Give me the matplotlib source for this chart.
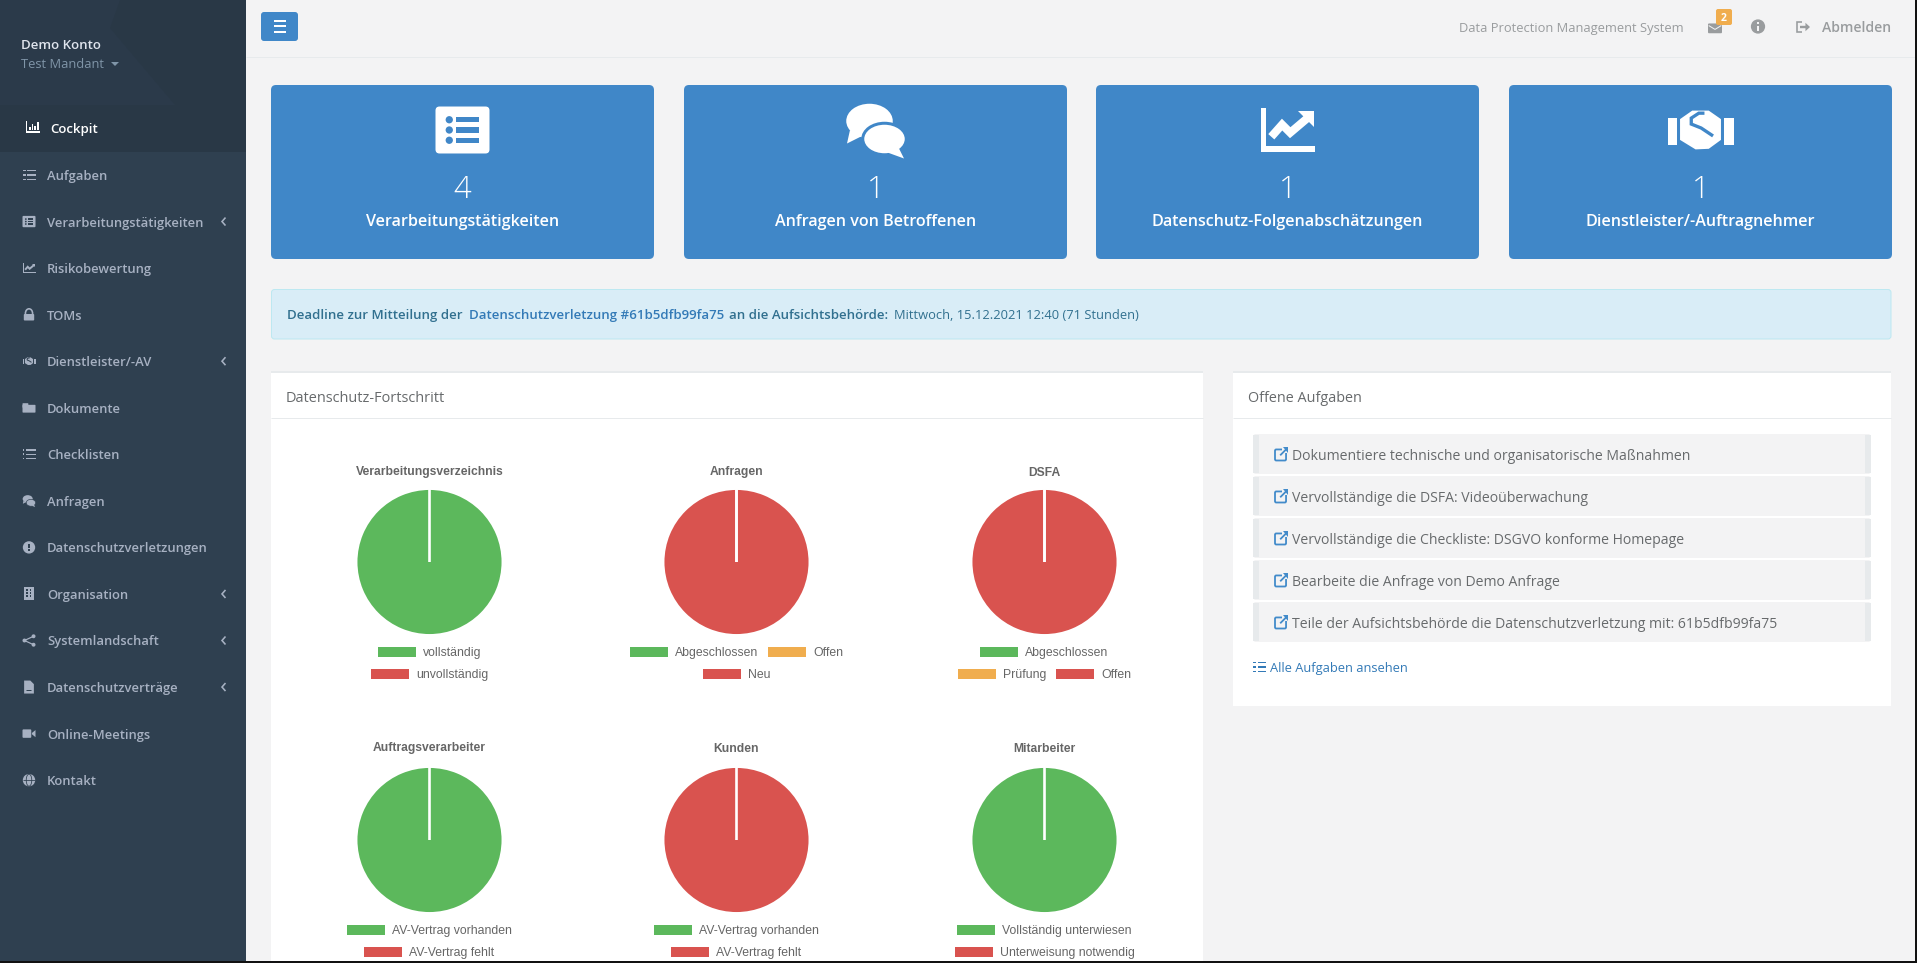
import matplotlib
matplotlib.use("Agg")
import matplotlib.pyplot as plt
from matplotlib.patches import Rectangle, FancyBboxPatch, Circle, Polygon, Ellipse

plt.rcParams['font.family'] = ['Open Sans', 'DejaVu Sans']

W, H = 1917, 963

# ── Data ──────────────────────────────────────────────────────────────────────
pie_titles = ["Verarbeitungsverzeichnis", "Anfragen", "DSFA",
              "Auftragsverarbeiter", "Kunden", "Mitarbeiter"]
pie_values = [[4, 0], [0, 0, 1], [0, 0, 1], [3, 0], [0, 2], [5, 0]]
pie_labels = [
    ["vollständig", "unvollständig"],
    ["Abgeschlossen", "Offen", "Neu"],
    ["Abgeschlossen", "Prüfung", "Offen"],
    ["AV-Vertrag vorhanden", "AV-Vertrag fehlt"],
    ["AV-Vertrag vorhanden", "AV-Vertrag fehlt"],
    ["Vollständig unterwiesen", "Unterweisung notwendig"],
]
pie_colors = [
    ["green", "red"],
    ["green", "orange", "red"],
    ["green", "orange", "red"],
    ["green", "red"],
    ["green", "red"],
    ["green", "red"],
]
pie_rows = [[1, 1], [2, 1], [1, 2], [1, 1], [1, 1], [1, 1]]

card_counts = [4, 1, 1, 1]
card_labels = ["Verarbeitungstätigkeiten", "Anfragen von Betroffenen",
               "Datenschutz-Folgenabschätzungen", "Dienstleister/-Auftragnehmer"]
card_icons = ["listalt", "comments", "chart", "handshake"]

nav_labels = ["Aufgaben", "Verarbeitungstätigkeiten", "Risikobewertung", "TOMs",
              "Dienstleister/-AV", "Dokumente", "Checklisten", "Anfragen",
              "Datenschutzverletzungen", "Organisation", "Systemlandschaft",
              "Datenschutzverträge", "Online-Meetings", "Kontakt"]
nav_icons = ["tasks", "listalt", "chart", "lock", "handshake", "folder", "list",
             "comments", "exclaim", "building", "share", "file", "video", "globe"]
nav_chevrons = ["Verarbeitungstätigkeiten", "Dienstleister/-AV", "Organisation",
                "Systemlandschaft", "Datenschutzverträge"]

task_labels = ["Dokumentiere technische und organisatorische Maßnahmen",
               "Vervollständige die DSFA: Videoüberwachung",
               "Vervollständige die Checkliste: DSGVO konforme Homepage",
               "Bearbeite die Anfrage von Demo Anfrage",
               "Teile der Aufsichtsbehörde die Datenschutzverletzung mit: 61b5dfb99fa75"]

# ── Colours ───────────────────────────────────────────────────────────────────
BG = "#f3f3f4"
NAV = "#2f4050"
NAV_DARK = "#293846"
NAV_TEXT = "#a7b1c2"
BLUE = "#4087c8"
GREY = "#676a6c"
SLICE = {"green": "#5cb85c", "orange": "#f0ad4e", "red": "#d9534f"}


def pt(px):
    return px * 0.72


fig = plt.figure(figsize=(W / 100, H / 100), dpi=100, facecolor=BG)
ax = fig.add_axes([0, 0, 1, 1])
ax.set_xlim(0, W)
ax.set_ylim(H, 0)
ax.axis("off")
renderer = fig.canvas.get_renderer()


def rect(x0, y0, x1, y1, color, z=1, **kw):
    ax.add_patch(Rectangle((x0, y0), x1 - x0, y1 - y0, fc=color, ec="none", zorder=z, **kw))


def rrect(x0, y0, x1, y1, color, r=4, z=1, ec="none", lw=0):
    ax.add_patch(FancyBboxPatch((x0, y0), x1 - x0, y1 - y0, boxstyle=f"round,pad=0,rounding_size={r}",
                                fc=color, ec=ec, lw=lw, zorder=z))


def label(x, y, s, px, color=GREY, ha="left", weight="normal", z=5, family=None):
    kw = {"family": family} if family else {}
    return ax.text(x, y, s, fontsize=pt(px), color=color, ha=ha, va="center_baseline",
                   fontweight=weight, zorder=z, **kw)


def line(xs, ys, color, lw=1.0, z=4):
    ax.plot(xs, ys, color=color, lw=pt(lw), zorder=z, solid_capstyle="butt",
            solid_joinstyle="miter")


# Small icons drawn in pixel coordinates: c = centre, s = half size
def icon(kind, cx, cy, s, fg, bg):
    X = lambda u: cx + u * s
    Y = lambda v: cy + v * s
    if kind == "listalt":
        rrect(X(-1), Y(-0.87), X(1), Y(0.87), fg, r=s * 0.15, z=4)
        for v in (-0.38, 0, 0.38):
            ax.add_patch(Circle((X(-0.49), Y(v)), s * 0.135, fc=bg, ec="none", zorder=5))
            rect(X(-0.23), Y(v - 0.1), X(0.6), Y(v + 0.1), bg, z=5)
    elif kind == "comments":
        ax.add_patch(Ellipse((X(-0.2), Y(-0.3)), s * 1.55, s * 1.15, fc=fg, ec="none", zorder=4))
        ax.add_patch(Polygon([(X(-0.85), Y(0)), (X(-0.95), Y(0.45)), (X(-0.45), Y(0.2))], fc=fg, ec="none", zorder=4))
        ax.add_patch(Ellipse((X(0.3), Y(0.3)), s * 1.45, s * 1.05, fc=fg, ec=bg, lw=pt(s * 0.1), zorder=5))
        ax.add_patch(Polygon([(X(0.75), Y(0.55)), (X(0.95), Y(0.95)), (X(0.4), Y(0.75))], fc=fg, ec="none", zorder=5))
    elif kind == "chart":
        rect(X(-1), Y(-0.8), X(-0.8), Y(0.8), fg, z=4)
        rect(X(-1), Y(0.6), X(1), Y(0.8), fg, z=4)
        line([X(-0.6), X(-0.2), X(0.1), X(0.75)], [Y(0.25), Y(-0.2), Y(0.1), Y(-0.45)], fg, lw=max(s * 0.3, 1.2))
        ax.add_patch(Polygon([(X(0.4), Y(-0.7)), (X(0.98), Y(-0.7)), (X(0.98), Y(-0.12))], fc=fg, ec="none", zorder=4))
    elif kind == "bars":
        rect(X(-1), Y(-0.8), X(-0.8), Y(0.8), fg, z=4)
        rect(X(-1), Y(0.6), X(1), Y(0.8), fg, z=4)
        for u, top in ((-0.6, 0.0), (-0.2, -0.45), (0.2, -0.1), (0.6, -0.75)):
            rect(X(u), Y(top), X(u + 0.25), Y(0.45), fg, z=4)
    elif kind == "handshake":
        Yh = lambda v: cy + v * s * 0.6
        rect(X(-1), Yh(-0.6), X(-0.72), Yh(0.75), fg, z=4)
        rect(X(0.72), Yh(-0.6), X(1), Yh(0.75), fg, z=4)
        ax.add_patch(Polygon([(X(-0.62), Yh(-0.55)), (X(-0.25), Yh(-0.98)), (X(0.25), Yh(-0.98)), (X(0.62), Yh(-0.55)),
                              (X(0.62), Yh(0.5)), (X(0.25), Yh(0.95)), (X(-0.15), Yh(0.98)), (X(-0.62), Yh(0.5))],
                             fc=fg, ec="none", zorder=4))
        line([X(0.38), X(0.02), X(-0.28), X(-0.28), X(-0.05), X(0.12)],
             [Yh(0.3), Yh(-0.1), Yh(-0.3), Yh(-0.6), Yh(-0.85), Yh(-0.85)], bg, lw=max(s * 0.1, 1))
    elif kind == "tasks":
        for v in (-0.65, 0, 0.65):
            rect(X(-0.25), Y(v - 0.1), X(1), Y(v + 0.1), fg, z=4)
            rect(X(-1), Y(v - 0.1), X(-0.5), Y(v + 0.1), fg, z=4)
    elif kind == "list":
        for v in (-0.65, 0, 0.65):
            rect(X(-0.5), Y(v - 0.12), X(1), Y(v + 0.12), fg, z=4)
            rect(X(-1), Y(v - 0.14), X(-0.72), Y(v + 0.14), fg, z=4)
    elif kind == "lock":
        rrect(X(-0.8), Y(-0.1), X(0.8), Y(0.9), fg, r=s * 0.15, z=4)
        ax.add_patch(Ellipse((cx, Y(-0.2)), s * 1.1, s * 1.4, fc="none", ec=fg, lw=pt(s * 0.25), zorder=4))
    elif kind == "folder":
        rrect(X(-1), Y(-0.7), X(-0.1), Y(0), fg, r=s * 0.1, z=4)
        rrect(X(-1), Y(-0.45), X(1), Y(0.75), fg, r=s * 0.1, z=4)
    elif kind == "exclaim":
        ax.add_patch(Circle((cx, cy), s * 0.95, fc=fg, ec="none", zorder=4))
        rect(X(-0.12), Y(-0.55), X(0.12), Y(0.15), bg, z=5)
        rect(X(-0.12), Y(0.32), X(0.12), Y(0.55), bg, z=5)
    elif kind == "info":
        ax.add_patch(Circle((cx, cy), s * 0.95, fc=fg, ec="none", zorder=4))
        rect(X(-0.12), Y(-0.1), X(0.12), Y(0.55), bg, z=5)
        rect(X(-0.12), Y(-0.55), X(0.12), Y(-0.3), bg, z=5)
    elif kind == "building":
        rect(X(-0.7), Y(-1), X(0.7), Y(1), fg, z=4)
        for u in (-0.4, 0.12):
            for v in (-0.7, -0.25, 0.2):
                rect(X(u), Y(v), X(u + 0.26), Y(v + 0.25), bg, z=5)
    elif kind == "share":
        line([X(0.7), X(-0.7), X(0.7)], [Y(-0.65), Y(0), Y(0.65)], fg, lw=1.2)
        for u, v in ((0.7, -0.65), (-0.7, 0), (0.7, 0.65)):
            ax.add_patch(Circle((X(u), Y(v)), s * 0.3, fc=fg, ec="none", zorder=4))
    elif kind == "file":
        ax.add_patch(Polygon([(X(-0.75), Y(-1)), (X(0.2), Y(-1)), (X(0.75), Y(-0.45)), (X(0.75), Y(1)), (X(-0.75), Y(1))],
                             fc=fg, ec="none", zorder=4))
        line([X(-0.4), X(0.3)], [Y(0.5), Y(0.5)], bg, lw=1)
    elif kind == "video":
        rrect(X(-1), Y(-0.65), X(0.35), Y(0.65), fg, r=s * 0.15, z=4)
        ax.add_patch(Polygon([(X(0.45), Y(-0.1)), (X(1), Y(-0.55)), (X(1), Y(0.55)), (X(0.45), Y(0.1))], fc=fg, ec="none", zorder=4))
    elif kind == "globe":
        ax.add_patch(Circle((cx, cy), s * 0.95, fc=fg, ec="none", zorder=4))
        line([X(-0.9), X(0.9)], [cy, cy], bg, lw=0.8, z=5)
        ax.add_patch(Ellipse((cx, cy), s * 0.85, s * 1.85, fc="none", ec=bg, lw=pt(0.8), zorder=5))
    elif kind == "mail":
        rrect(X(-1), Y(-0.65), X(1), Y(0.75), fg, r=s * 0.15, z=4)
        line([X(-0.9), X(0), X(0.9)], [Y(-0.35), Y(0.2), Y(-0.35)], bg, lw=1, z=5)
    elif kind == "signout":
        line([X(-0.15), X(-0.9), X(-0.9), X(-0.15)], [Y(-0.7), Y(-0.7), Y(0.7), Y(0.7)], fg, lw=1.6)
        line([X(-0.4), X(0.7)], [cy, cy], fg, lw=2.4)
        ax.add_patch(Polygon([(X(0.35), Y(-0.6)), (X(1), cy), (X(0.35), Y(0.6))], fc=fg, ec="none", zorder=4))
    elif kind == "extlink":
        rrect(X(-1), Y(-0.7), X(0.7), Y(1), "none", r=s * 0.2, z=4, ec=fg, lw=pt(1.8))
        rect(X(0.05), Y(-1.1), X(1.1), Y(-0.1), bg, z=4)
        line([X(-0.2), X(0.9)], [Y(0.2), Y(-0.9)], fg, lw=1.8, z=5)
        ax.add_patch(Polygon([(X(0.2), Y(-1)), (X(1), Y(-1)), (X(1), Y(-0.2))], fc=fg, ec="none", zorder=5))


# ── Page frame ────────────────────────────────────────────────────────────────
rect(0, 0, 246, H, NAV)
rect(0, 0, 246, 152, NAV_DARK)
ax.add_patch(Polygon([(0, 0), (120, 0), (110, 28), (175, 105), (0, 105)], fc="#2b3a4a", ec="none", zorder=1))
line([246, W], [57, 57], "#e7eaec", lw=1)

# ── Sidebar ───────────────────────────────────────────────────────────────────
label(21, 44, "Demo Konto", 13.3, "#dfe4ed", weight="semibold")
label(21, 63, "Test Mandant", 12.9, "#8095a8")
ax.add_patch(Polygon([(111, 62), (119, 62), (115, 66)], fc="#8095a8", ec="none", zorder=4))

icon("bars", 33, 127, 7, "white", NAV_DARK)
label(50.5, 128, "Cockpit", 13.2, "white", weight="semibold")

for i, (name, kind) in enumerate(zip(nav_labels, nav_icons)):
    y = 175 + i * 46.55
    icon(kind, 29, y, 6.5, NAV_TEXT, NAV)
    label(47, y, name, 13, NAV_TEXT, weight="semibold")
    if name in nav_chevrons:
        line([225.5, 222, 225.5], [y - 4, y, y + 4], NAV_TEXT, lw=1.6)

# ── Top bar ───────────────────────────────────────────────────────────────────
rrect(261, 12, 298, 41, BLUE, r=3)
for y in (21, 26.5, 32):
    rect(273.5, y - 1, 286, y + 1, "white", z=4)
label(1459, 27, "Data Protection Management System", 12.95, "#999c9e")
icon("mail", 1715, 28, 7, "#999c9e", BG)
rrect(1716, 9, 1732, 25, "#f0ad4e", r=2, z=5)
label(1724, 17, "2", 10.5, "white", ha="center", weight="bold", z=6)
icon("info", 1758, 26.5, 7.5, "#999c9e", BG)
icon("signout", 1803, 27, 7, "#999c9e", BG)
label(1822, 27, "Abmelden", 14, "#999c9e", weight="semibold")

# ── Summary cards ─────────────────────────────────────────────────────────────
card_x = [271, 684, 1096, 1509]
icon_size = {"listalt": 27, "comments": 30, "chart": 27, "handshake": 33}
for x, n, name, kind in zip(card_x, card_counts, card_labels, card_icons):
    rrect(x, 85, x + 383, 259, BLUE, r=5)
    cx = x + 191.5
    icon(kind, cx, 130, icon_size[kind], "white", BLUE)
    label(cx, 186, str(n), 31, "white", ha="center", weight="light")
    label(cx, 220, name, 16.1, "white", ha="center", weight="semibold")

# ── Deadline alert ────────────────────────────────────────────────────────────
rrect(271.5, 289.5, 1891, 339, "#d9edf7", r=3, ec="#bce8f1", lw=0.7)
alert_parts = [(287, "Deadline zur Mitteilung der ", "#31708f", "semibold"),
               (469, "Datenschutzverletzung #61b5dfb99fa75", "#337ab7", "semibold"),
               (729, "an die Aufsichtsbehörde:", "#31708f", "semibold"),
               (894, "Mittwoch, 15.12.2021 12:40 (71 Stunden)", "#31708f", "normal")]
for x, s, c, w in alert_parts:
    label(x, 314, s, 13.25 if w != "normal" else 12.95, c, weight=w)

# ── Panels ────────────────────────────────────────────────────────────────────
rect(271, 372, 1203, H, "white")
rect(271, 371, 1203, 373, "#e7eaec", z=2)
line([271, 1203], [418, 418], "#e7eaec", z=2)
label(286, 396, "Datenschutz-Fortschritt", 14.5, GREY)

rect(1233, 372, 1891, 706, "white")
rect(1233, 371, 1891, 373, "#e7eaec", z=2)
line([1233, 1891], [418, 418], "#e7eaec", z=2)
label(1248, 396, "Offene Aufgaben", 14.4, GREY)

for i, name in enumerate(task_labels):
    y0 = 434 + i * 42
    rrect(1253, y0, 1871, y0 + 40, "#f3f3f4", r=3, z=2)
    rect(1253, y0 + 1, 1259, y0 + 39, "#e7eaec", z=3)
    rect(1865, y0 + 1, 1871, y0 + 39, "#e7eaec", z=3)
    icon("extlink", 1281.5, y0 + 20, 6.5, "#428bca", "#f3f3f4")
    label(1292, y0 + 20, name, 14.05, GREY)

icon("tasks", 1259.5, 667, 6.5, "#337ab7", "white")
label(1270, 667, "Alle Aufgaben ansehen", 12.9, "#337ab7")

# ── Pies ──────────────────────────────────────────────────────────────────────
R = 73
pie_cx = [429.5, 736.5, 1044.5]
pie_cy = [562, 840]
for i in range(6):
    cx = pie_cx[i % 3]
    cy = pie_cy[i // 3]
    m = R + 3
    pax = fig.add_axes([(cx - m) / W, 1 - (cy + m) / H, 2 * m / W, 2 * m / H])
    wedges, _ = pax.pie(pie_values[i], colors=[SLICE[c] for c in pie_colors[i]], startangle=90, counterclock=False,
                        radius=1.005, wedgeprops={"edgecolor": "white", "linewidth": 1.9})
    # empty slices only leave their white border, which has to stay on top
    for w, v in zip(wedges, pie_values[i]):
        if v == 0:
            w.set_zorder(3)
    pax.set_xlim(-m / R, m / R)
    pax.set_ylim(-m / R, m / R)
    pax.patch.set_alpha(0)

    label(cx, cy - 91 - 2 * (i // 3), pie_titles[i], 12.1, "#666666", ha="center", weight="bold", family="Liberation Sans")

    # legend rows, centred under the pie like the chart library wraps them
    k = 0
    for r, n in enumerate(pie_rows[i]):
        y = cy + 90 + r * 22
        items = []
        for name, c in zip(pie_labels[i][k:k + n], pie_colors[i][k:k + n]):
            t = label(0, y - 0.5, name, 12.2, "#666666", family="Liberation Sans")
            items.append((t, SLICE[c], t.get_window_extent(renderer).width))
        k += n
        x = cx - (sum(38 + 7 + tw for _, _, tw in items) + 10 * (n - 1)) / 2
        for t, c, tw in items:
            rect(x, y - 5, x + 38, y + 5, c, z=3)
            t.set_x(x + 45)
            x += 38 + 7 + tw + 10

# ── Screenshot edge ───────────────────────────────────────────────────────────
rect(0, H - 2, W, H, "#111111", z=8)
rect(W - 2, 0, W, H, "#111111", z=8)

fig.savefig("out.png", dpi=100, facecolor=BG)
